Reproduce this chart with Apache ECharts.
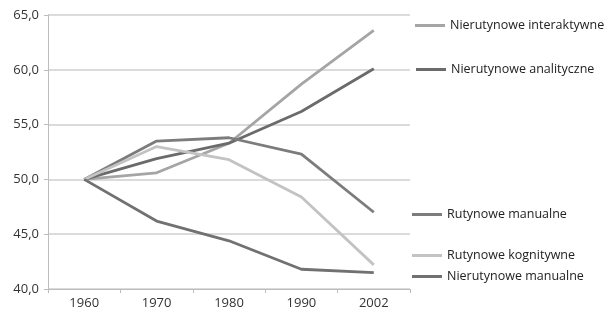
<!DOCTYPE html>
<html><head><meta charset="utf-8">
<script src="https://cdn.jsdelivr.net/npm/echarts@6/dist/echarts.min.js"></script>
<style>html,body{margin:0;padding:0;background:#fff}#c{width:605px;height:313px}</style>
</head><body><div id="c"></div>
<script>
const categories = ['1960','1970','1980','1990','2002'];
const seriesNames = ['Nierutynowe interaktywne','Nierutynowe analityczne','Rutynowe manualne','Rutynowe kognitywne','Nierutynowe manualne'];
const nierutynoweInteraktywne = [50.0, 50.6, 53.3, 58.7, 63.6];
const nierutynoweAnalityczne = [50.0, 51.9, 53.3, 56.2, 60.1];
const rutynoweManualne = [50.0, 53.5, 53.8, 52.3, 47.0];
const rutynoweKognitywne = [50.0, 53.0, 51.8, 48.4, 42.2];
const nierutynoweManualne = [50.0, 46.2, 44.4, 41.8, 41.5];
const yTicks = [40, 45, 50, 55, 60, 65];

const values = [nierutynoweInteraktywne, nierutynoweAnalityczne, rutynoweManualne, rutynoweKognitywne, nierutynoweManualne];
const colors = ['#a5a5a5', '#6b6b6b', '#7c7c7c', '#c3c3c3', '#717171'];
const legendTops = [19, 63, 208, 249, 270];
const legendLefts = [415, 416, 412, 412, 412];
const font = 'Open Sans';

const chart = echarts.init(document.getElementById('c'));
chart.setOption({
  animation: false,
  grid: {left: 48, right: 195, top: 15, bottom: 24, containLabel: false},
  xAxis: {
    type: 'category', data: categories, boundaryGap: true,
    axisLine: {lineStyle: {color: '#bdbdbd', width: 1}},
    axisTick: {show: true, length: 4, lineStyle: {color: '#bdbdbd'}},
    axisLabel: {color: '#333', fontFamily: font, fontSize: 13, margin: 8}
  },
  yAxis: {
    type: 'value', min: yTicks[0], max: yTicks[yTicks.length-1], interval: 5,
    axisLine: {show: true, lineStyle: {color: '#bdbdbd'}},
    axisTick: {show: true, length: 4, lineStyle: {color: '#bdbdbd'}},
    splitLine: {lineStyle: {color: '#cfcfcf', width: 1.5}},
    axisLabel: {color: '#333', fontFamily: font, fontSize: 13, margin: 9,
      formatter: v => v.toFixed(1).replace('.', ',')}
  },
  legend: seriesNames.map((n, i) => ({
    data: [n], left: legendLefts[i], top: legendTops[i], orient: 'vertical',
    padding: 0, icon: 'rect',
    itemWidth: 30, itemHeight: 3, itemGap: 0,
    textStyle: {color: '#222', fontFamily: font, fontSize: 12.5}
  })),
  series: seriesNames.map((n, i) => ({
    name: n, type: 'line', data: values[i], symbol: 'none',
    lineStyle: {color: colors[i], width: 2.8}, itemStyle: {color: colors[i]}
  }))
});
</script></body></html>
